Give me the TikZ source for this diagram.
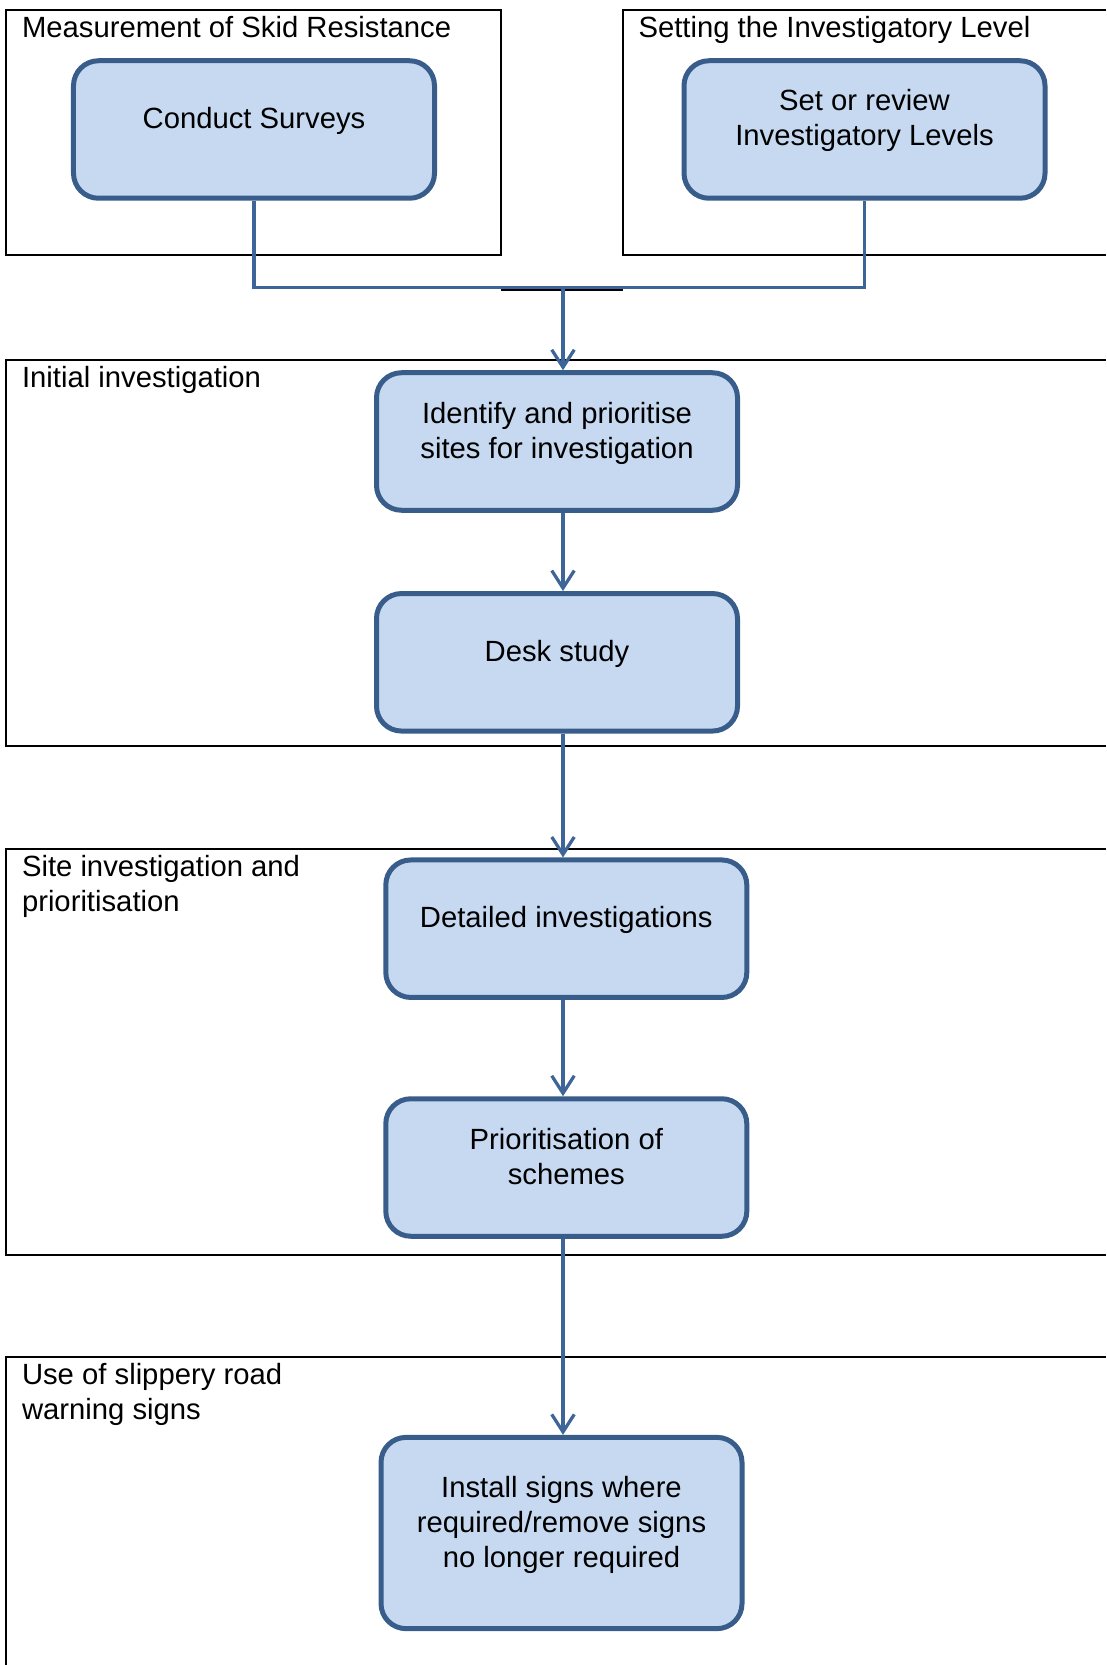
\documentclass[tikz,border=0pt]{standalone}
\usepackage{fontspec}
\setmainfont{Liberation Sans}
\usetikzlibrary{arrows.meta,positioning,calc}
\definecolor{boxfill}{HTML}{C6D9F1}
\definecolor{boxline}{HTML}{385D8A}
\definecolor{linkblue}{HTML}{3D6597}
\newcommand{\boxtext}[1]{\raisebox{3.2pt}[\height][\depth]{\begin{tabular}{@{}c@{}}#1\end{tabular}}}

\begin{document}
\begin{tikzpicture}[x=0.4pt, y=-0.4pt, >={Straight Barb[length=7pt,width=9pt]},
    lane/.style={draw=black, line width=0.8pt},
    lanetitle/.style={anchor=north west, inner sep=0pt, align=left, font=\fontsize{11.7}{14}\selectfont},
    proc/.style={draw=boxline, fill=boxfill, line width=2pt, rounded corners=10pt,
        minimum width=144.4pt, minimum height=55pt, inner sep=0pt, font=\fontsize{11.7}{14}\selectfont},
    link/.style={draw=linkblue, line width=1.3pt}]
    \useasboundingbox (0,0) rectangle (1106,1665);
    % Swim lanes
    \draw[lane] (6.4,9.6) rectangle (501,254.7);
    \draw[lane] (1106,9.6) -- (623,9.6) -- (623,254.7) -- (1106,254.7);
    \draw[lane] (1106,359.8) -- (6.4,359.8) -- (6.4,746) -- (1106,746);
    \draw[lane] (1106,849) -- (6.4,849) -- (6.4,1254.6) -- (1106,1254.6);
    \draw[lane] (1106,1356.5) -- (6.4,1356.5) -- (6.4,1665);
    \draw[lane] (501,290) -- (623,290);
    % Lane titles
    \node[lanetitle] (skid) at (21.5,15.5) {Measurement of Skid Resistance};
    \node[lanetitle] (level) at (638,15.5) {Setting the Investigatory Level};
    \node[lanetitle] (initial) at (21.5,365.5) {Initial investigation};
    \node[lanetitle] (site) at (21.5,854.5) {Site investigation and\\prioritisation};
    \node[lanetitle] (warning) at (21.5,1363) {Use of slippery road\\warning signs};
    % Process boxes
    \node[proc] (surveys) at (254,129.5) {\boxtext{Conduct Surveys}};
    \node[proc] (levels) at (864.5,129.5) {\boxtext{Set or review\\Investigatory Levels}};
    \node[proc] (identify) at (557,441.5) {\boxtext{Identify and prioritise\\sites for investigation}};
    \node[proc] (desk) at (557,662.3) {\boxtext{Desk study}};
    \node[proc] (detailed) at (566.3,928.7) {\boxtext{Detailed investigations}};
    \node[proc] (prior) at (566.3,1167.5) {\boxtext{Prioritisation of\\schemes}};
    \node[proc, minimum height=76.5pt] (signs) at (561.5,1533) {\boxtext{Install signs where\\required/remove signs\\no longer required}};
    % Connectors
    \coordinate (bus) at (563,287.5);
    \draw[link] (surveys.south) |- (bus) -| (levels.south);
    \draw[link, ->] (bus) -- (identify.north -| bus);
    \draw[link, ->] (identify.south -| bus) -- (desk.north -| bus);
    \draw[link, ->] (desk.south -| bus) -- (detailed.north -| bus);
    \draw[link, ->] (detailed.south -| bus) -- (prior.north -| bus);
    \draw[link, ->] (prior.south -| bus) -- (signs.north -| bus);
\end{tikzpicture}
\end{document}
